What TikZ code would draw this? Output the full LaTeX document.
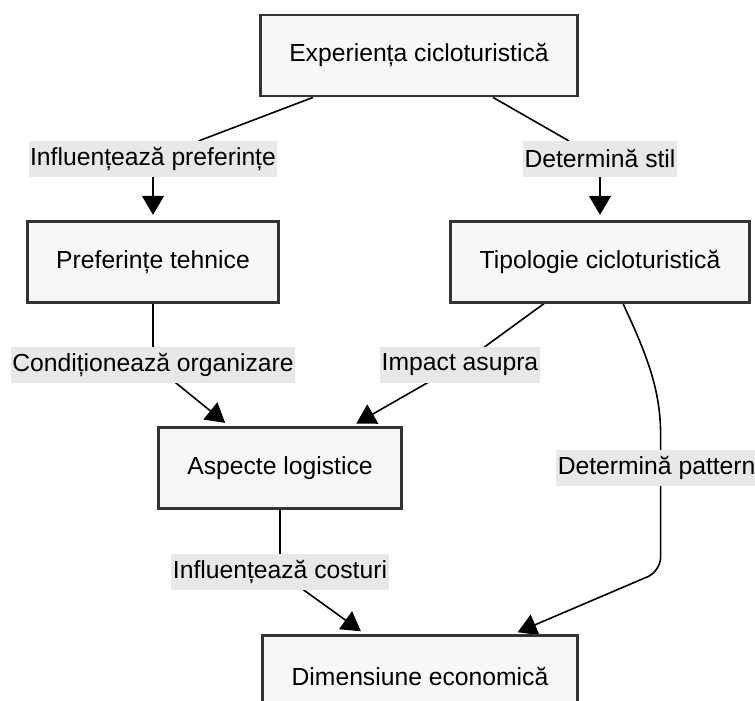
\documentclass[tikz,border=0pt]{standalone}
\usepackage{fontspec}
\setmainfont{Liberation Sans}
\usepackage{xcolor}
\usepackage{tikz}
\usetikzlibrary{arrows.meta, positioning, calc, shadows, backgrounds}

\definecolor{boxfill}{HTML}{F7F7F7}
\definecolor{boxline}{HTML}{333333}
\definecolor{lblfill}{HTML}{E8E8E8}

\begin{document}
\begin{tikzpicture}[
    x=1pt, y=1pt,
    font=\fontsize{24.7}{29}\selectfont,
    % Styles
    box/.style={rectangle, draw=boxline, fill=boxfill, line width=2.8pt, minimum height=81pt, inner xsep=29pt, align=center, drop shadow={shadow xshift=1.5pt, shadow yshift=-1.5pt, opacity=0.12}},
    lbl/.style={rectangle, fill=lblfill, minimum height=36pt, inner xsep=1.5pt, inner ysep=0pt},
    arrow/.style={-{Triangle[length=19pt, width=22pt]}, line width=1.6pt, draw=black, shorten >=5pt}
]
\useasboundingbox (0,0) rectangle (755,-701);

% ------------------- TOP -------------------
\node[box] (exp) at (419,-55.5) {Experiența cicloturistică};

\node[lbl, below=43pt of exp, xshift=-266pt] (lInfl) {Influențează preferințe};
\node[box, below=43pt of lInfl] (pref) {Preferințe tehnice};

\node[lbl, below=43pt of exp, xshift=181pt] (lDet) {Determină stil};
\node[box, below=43pt of lDet] (tipo) {Tipologie cicloturistică};

% ------------------- MIDDLE -------------------
\node[lbl, below=43pt of pref] (lCond) {Condiționează organizare};
\node[lbl, below=43pt of tipo, xshift=-140pt] (lImp) {Impact asupra};
\node[box, below=43pt of lCond, xshift=127pt] (logi) {Aspecte logistice};
\node[lbl, right=153pt of logi] (lPat) {Determină pattern};

% ------------------- BOTTOM -------------------
\node[lbl, below=44pt of logi] (lCost) {Influențează costuri};
\node[box, below=44pt of lCost, xshift=140pt] (econ) {Dimensiune economică};

% ------------------- EDGES -------------------
\begin{scope}[on background layer]
\draw[arrow] ([xshift=-106pt]exp.south) -- ([xshift=47pt]lInfl.north) -- (lInfl.south) -- (pref.north);
\draw[arrow] ([xshift=74pt]exp.south) -- ([xshift=-32pt]lDet.north) -- (lDet.south) -- (tipo.north);

\draw[arrow] (pref.south) -- (lCond.north) -- ([xshift=23pt]lCond.south) -- ([xshift=-51pt]logi.north);
\draw[arrow] ([xshift=-56pt]tipo.south) -- ([xshift=25pt]lImp.north) -- ([xshift=-33pt]lImp.south) -- ([xshift=72pt]logi.north);

\draw[arrow, rounded corners=14pt] ([xshift=23pt]tipo.south) to[out=-65, in=90] ([xshift=4pt]lPat.north) -- ([xshift=4pt]lPat.south) -- ($([xshift=4pt]lPat.south |- econ.north)+(0,63pt)$) -- ([xshift=93pt]econ.north);

\draw[arrow] (logi.south) -- (lCost.north) -- ([xshift=24pt]lCost.south) -- ([xshift=-55pt]econ.north);
\end{scope}

\end{tikzpicture}
\end{document}
